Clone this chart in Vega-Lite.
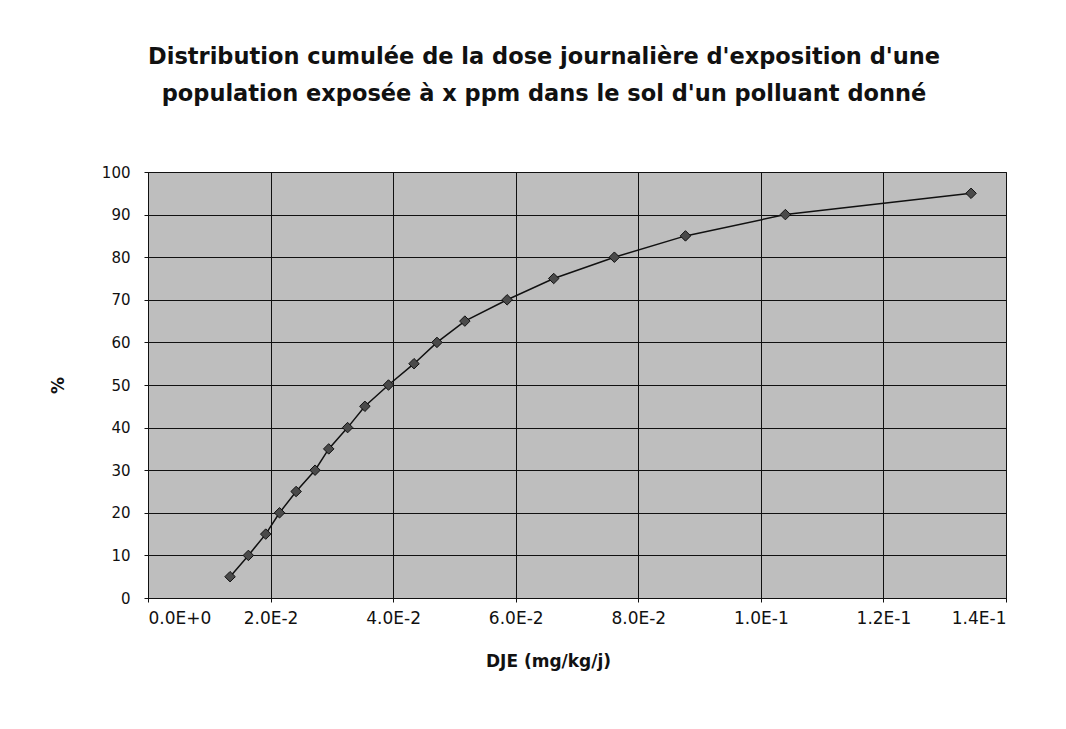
{
  "$schema": "https://vega.github.io/schema/vega-lite/v6.json",
  "autosize": "none",
  "width": 858,
  "height": 426,
  "padding": {"left": 148, "top": 172, "right": 60, "bottom": 131},
  "background": "white",
  "title": {
    "text": ["Distribution cumulée de la dose journalière d'exposition d'une", "population exposée à x ppm dans le sol d'un polluant donné"],
    "font": "DejaVu Sans",
    "fontSize": 22.5,
    "fontWeight": "bold",
    "color": "#111111",
    "lineHeight": 37,
    "anchor": "middle",
    "dx": -33,
    "offset": 60
  },
  "config": {
    "view": {"fill": "#bebebe", "stroke": "#222222", "strokeWidth": 1},
    "axis": {
      "labelFont": "DejaVu Sans",
      "labelFontSize": 15,
      "labelColor": "#111111",
      "titleFont": "DejaVu Sans",
      "titleColor": "#111111",
      "gridColor": "#111111",
      "gridOpacity": 1,
      "gridWidth": 1,
      "domainColor": "#111111",
      "tickColor": "#111111",
      "tickSize": 4
    }
  },
  "data": {
    "values": [
      {"dje": 0.01339, "pct": 5},
      {"dje": 0.01638, "pct": 10},
      {"dje": 0.01921, "pct": 15},
      {"dje": 0.02146, "pct": 20},
      {"dje": 0.02417, "pct": 25},
      {"dje": 0.02726, "pct": 30},
      {"dje": 0.02949, "pct": 35},
      {"dje": 0.03257, "pct": 40},
      {"dje": 0.03539, "pct": 45},
      {"dje": 0.03924, "pct": 50},
      {"dje": 0.04341, "pct": 55},
      {"dje": 0.04715, "pct": 60},
      {"dje": 0.0517, "pct": 65},
      {"dje": 0.0586, "pct": 70},
      {"dje": 0.0662, "pct": 75},
      {"dje": 0.0761, "pct": 80},
      {"dje": 0.0877, "pct": 85},
      {"dje": 0.1040, "pct": 90},
      {"dje": 0.1343, "pct": 95}
    ]
  },
  "encoding": {
    "x": {
      "field": "dje",
      "type": "quantitative",
      "scale": {"domain": [0, 0.14], "nice": false, "zero": false},
      "axis": {
        "values": [0, 0.02, 0.04, 0.06, 0.08, 0.1, 0.12, 0.14],
        "labelExpr": "replace(format(datum.value, '.1e'), 'e', 'E')",
        "labelFontSize": 17,
        "labelPadding": 8,
        "title": "DJE (mg/kg/j)",
        "titleFontSize": 17,
        "titleFontWeight": "bold",
        "titlePadding": 27,
        "titleX": 400
      }
    },
    "y": {
      "field": "pct",
      "type": "quantitative",
      "scale": {"domain": [0, 100], "nice": false},
      "axis": {
        "values": [0, 10, 20, 30, 40, 50, 60, 70, 80, 90, 100],
        "labelPadding": 14,
        "title": "%",
        "titleFontSize": 17,
        "titleFontWeight": "bold",
        "titleAngle": -90,
        "titleX": -90,
        "titleY": 213,
        "titleAlign": "center",
        "titleBaseline": "middle"
      }
    }
  },
  "layer": [
    {"mark": {"type": "line", "color": "#111111", "strokeWidth": 1.5}},
    {"mark": {"type": "point", "shape": "diamond", "size": 110, "filled": true, "fill": "#4a4a4a", "stroke": "#111111", "strokeWidth": 1, "opacity": 1}}
  ]
}
